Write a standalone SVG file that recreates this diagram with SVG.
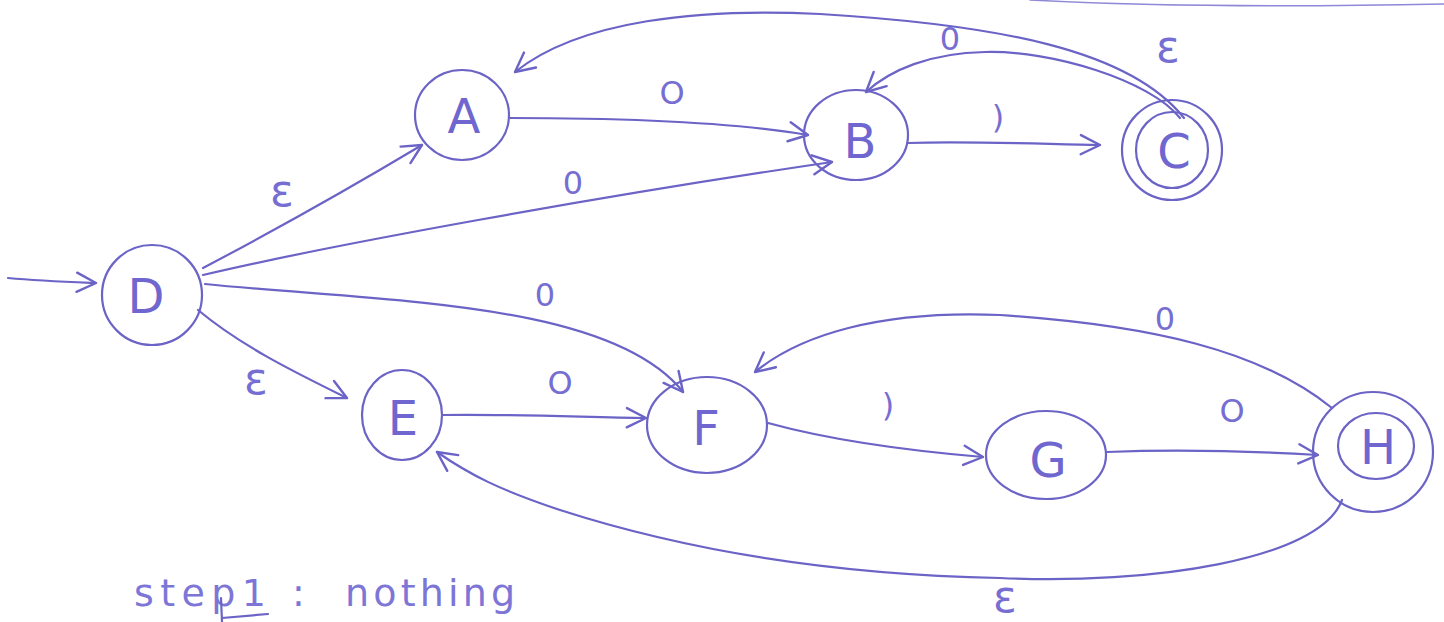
<svg xmlns="http://www.w3.org/2000/svg" width="1444" height="622" viewBox="0 0 1444 622">
  <style>
    .ink { fill: none; stroke: #6b63c6; stroke-width: 2.2; stroke-linecap: round; stroke-linejoin: round; }
    .faint { fill: none; stroke: #8f88d8; stroke-width: 1.6; stroke-linecap: round; }
    .state { font-family: "DejaVu Sans", "Liberation Sans", sans-serif; font-size: 48px; fill: #6f67cf; text-anchor: middle; }
    .lbl { font-family: "DejaVu Sans", "Liberation Sans", sans-serif; font-size: 32px; fill: #766ed2; text-anchor: middle; }
    .eps { font-family: "DejaVu Sans", "Liberation Sans", sans-serif; font-size: 44px; fill: #766ed2; text-anchor: middle; }
    .note { font-family: "DejaVu Sans", "Liberation Sans", sans-serif; font-size: 38px; fill: #7d76d6; }
  </style>
  <defs>
    <marker id="arrow" viewBox="0 0 20 20" refX="18" refY="10" markerWidth="24" markerHeight="24" markerUnits="userSpaceOnUse" orient="auto">
      <path d="M2,2 L18,10 L2,18" fill="none" stroke="#6b63c6" stroke-width="2" stroke-linecap="round" stroke-linejoin="round"/>
    </marker>
  </defs>
  <rect width="1444" height="622" fill="#ffffff"/>

  <!-- transitions -->
  <g id="connectors">
    <!-- start -->
    <path class="ink" d="M8,278 C40,281 70,282 96,283" marker-end="url(#arrow)"/>
    <!-- D -> A (epsilon) -->
    <path class="ink" d="M203,268 C260,238 330,200 422,145" marker-end="url(#arrow)"/>
    <!-- D -> B (0) -->
    <path class="ink" d="M203,275 C330,245 600,196 832,162" marker-end="url(#arrow)"/>
    <!-- D -> F (0) -->
    <path class="ink" d="M205,284 C380,302 610,300 683,392" marker-end="url(#arrow)"/>
    <!-- D -> E (epsilon) -->
    <path class="ink" d="M198,310 C240,345 290,370 347,398" marker-end="url(#arrow)"/>
    <!-- A -> B (0) -->
    <path class="ink" d="M510,118 C600,118 720,120 808,135" marker-end="url(#arrow)"/>
    <!-- B -> C (1) -->
    <path class="ink" d="M908,143 C970,141 1040,144 1100,145" marker-end="url(#arrow)"/>
    <!-- C -> B (0) -->
    <path class="ink" d="M1180,118 C1150,80 1050,50 985,52 C930,53 890,70 866,92" marker-end="url(#arrow)"/>
    <!-- C -> A (epsilon) -->
    <path class="ink" d="M1184,118 C1130,50 1000,25 820,14 C700,8 580,20 515,72" marker-end="url(#arrow)"/>
    <!-- stray stroke along the top edge -->
    <path class="faint" d="M1030,0 Q1200,9 1444,4"/>
    <!-- E -> F (0) -->
    <path class="ink" d="M442,415 C510,414 580,417 646,418" marker-end="url(#arrow)"/>
    <!-- F -> G (1) -->
    <path class="ink" d="M768,423 C830,440 900,450 983,457" marker-end="url(#arrow)"/>
    <!-- G -> H (0) -->
    <path class="ink" d="M1107,452 C1180,449 1250,451 1318,455" marker-end="url(#arrow)"/>
    <!-- H -> F (0) -->
    <path class="ink" d="M1332,408 C1260,350 1150,325 1000,315 C880,310 800,335 755,372" marker-end="url(#arrow)"/>
    <!-- H -> E (epsilon) -->
    <path class="ink" d="M1342,500 C1320,560 1150,585 1000,578 C850,575 700,555 560,510 C500,490 470,475 437,452" marker-end="url(#arrow)"/>
  </g>

  <!-- transition labels -->
  <g id="labels">
    <text class="eps" x="282" y="206">ε</text>
    <text class="lbl" x="573" y="194">0</text>
    <text class="lbl" x="545" y="306">0</text>
    <text class="eps" x="256" y="394">ε</text>
    <text class="lbl" x="672" y="104">O</text>
    <text class="lbl" x="998" y="128">)</text>
    <text class="lbl" x="950" y="50">0</text>
    <text class="eps" x="1168" y="62">ε</text>
    <text class="lbl" x="560" y="394">O</text>
    <text class="lbl" x="888" y="416">)</text>
    <text class="lbl" x="1232" y="422">O</text>
    <text class="lbl" x="1165" y="330">0</text>
    <text class="eps" x="1005" y="612">ε</text>
  </g>

  <!-- states -->
  <g id="node-D">
    <ellipse class="ink" cx="152" cy="295" rx="50" ry="50"/>
    <text class="state" x="146" y="313">D</text>
  </g>
  <g id="node-A">
    <ellipse class="ink" cx="462" cy="115" rx="47" ry="45"/>
    <text class="state" x="464" y="133">A</text>
  </g>
  <g id="node-B">
    <ellipse class="ink" cx="856" cy="135" rx="52" ry="45"/>
    <text class="state" x="860" y="158">B</text>
  </g>
  <g id="node-C">
    <ellipse class="ink" cx="1172" cy="150" rx="50" ry="50"/>
    <ellipse class="ink" cx="1172" cy="150" rx="36" ry="38"/>
    <text class="state" x="1174" y="168">C</text>
  </g>
  <g id="node-E">
    <ellipse class="ink" cx="402" cy="415" rx="40" ry="45"/>
    <text class="state" x="403" y="435">E</text>
  </g>
  <g id="node-F">
    <ellipse class="ink" cx="707" cy="425" rx="60" ry="48"/>
    <text class="state" x="706" y="445">F</text>
  </g>
  <g id="node-G">
    <ellipse class="ink" cx="1046" cy="455" rx="60" ry="44"/>
    <text class="state" x="1048" y="477">G</text>
  </g>
  <g id="node-H">
    <ellipse class="ink" cx="1373" cy="452" rx="60" ry="60"/>
    <ellipse class="ink" cx="1376" cy="446" rx="38" ry="33"/>
    <text class="state" x="1378" y="464">H</text>
  </g>

  <!-- note at bottom left -->
  <g id="note">
    <text class="note" x="134" y="606" textLength="132" lengthAdjust="spacing">step1</text>
    <text class="note" x="292" y="606">:</text>
    <text class="note" x="345" y="606" textLength="170" lengthAdjust="spacing">nothing</text>
    <path class="ink" d="M221,598 L222,622 M222,618 L268,614"/>
  </g>
</svg>
